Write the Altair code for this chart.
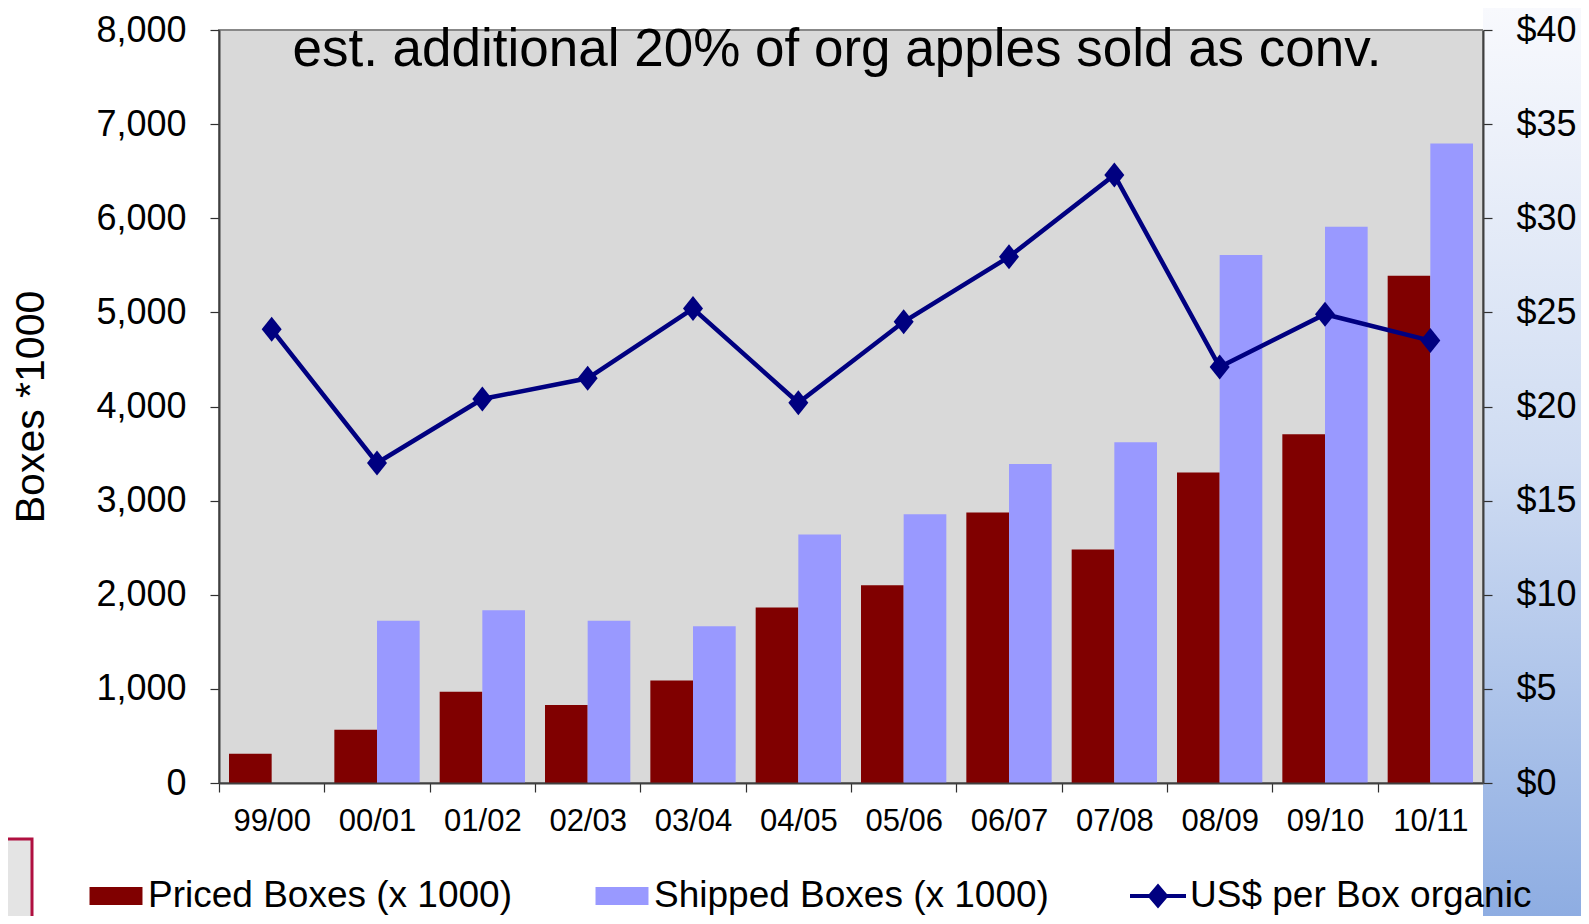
import altair as alt
import pandas as pd

# ---- data ----
SEASONS = ["99/00", "00/01", "01/02", "02/03", "03/04", "04/05",
           "05/06", "06/07", "07/08", "08/09", "09/10", "10/11"]
PRICED_BOXES = [310, 565, 970, 830, 1090, 1865, 2100, 2875, 2480, 3300, 3705, 5390]
SHIPPED_BOXES = [None, 1725, 1835, 1725, 1665, 2640, 2855, 3390, 3620, 5610, 5910, 6795]
PRICE_PER_BOX = [24.1, 17.0, 20.4, 21.5, 25.2, 20.2, 24.5, 27.95, 32.3, 22.1, 24.9, 23.5]
LEFT_TICKS = [0, 1000, 2000, 3000, 4000, 5000, 6000, 7000, 8000]
RIGHT_TICKS = [0, 5, 10, 15, 20, 25, 30, 35, 40]
PRICED_NAME = "Priced Boxes (x 1000)"
SHIPPED_NAME = "Shipped Boxes (x 1000)"
LINE_NAME = "US$ per Box organic"
NOTE = "est. additional 20% of org apples sold as conv."
Y_TITLE = "Boxes *1000"

# ---- style ----
MAROON = "#800000"
LAVENDER = "#9999FF"
NAVY = "#000080"
FONT = "Liberation Sans"
W, H = 1264, 753
PAD = {"left": 211, "top": 22, "right": 98, "bottom": 133}
STEP = W / len(SEASONS)
TOP = 8 + PAD["top"]          # page y of the plot's top edge

RECT_PATH = "M-0.946,-0.32H0.946V0.32H-0.946Z"
LINE_PATH = "M-1,-0.075H1V0.075H-1Z M0,-0.45L0.38,0L0,0.45L-0.38,0Z"
DIAMOND = "M0,-1L0.8,0L0,1L-0.8,0Z"

rows = []
for s, p, sh in zip(SEASONS, PRICED_BOXES, SHIPPED_BOXES):
    rows.append({"season": s, "series": PRICED_NAME, "boxes": p})
    if sh is not None:
        rows.append({"season": s, "series": SHIPPED_NAME, "boxes": sh})
bars_df = pd.DataFrame(rows)
line_df = pd.DataFrame({"season": SEASONS, "price": PRICE_PER_BOX,
                        "series": [LINE_NAME] * len(SEASONS)})

x_enc = alt.X(
    "season:N",
    sort=SEASONS,
    scale=alt.Scale(domain=SEASONS, paddingInner=0.19, paddingOuter=0.095),
    axis=alt.Axis(title=None, labelAngle=0, labelFontSize=31, tickSize=9,
                  tickOffset=-STEP / 2, labelOffset=STEP / 2, labelPadding=14,
                  zindex=1, grid=False),
)

left_axis = alt.Axis(orient="left", values=LEFT_TICKS, format=",.0f", labelFontSize=36,
                     tickSize=9, labelPadding=24, title=Y_TITLE, titleFontSize=41,
                     titleFontWeight="normal", titlePadding=43, grid=False, zindex=1)
right_axis = alt.Axis(orient="right", values=RIGHT_TICKS, format="$.0f", labelFontSize=36,
                      tickSize=9, labelPadding=24, title=None, grid=False, zindex=1)

LEG_Y = 868 - TOP
bar_legend = alt.Legend(title=None, orient="none", legendX=-131, legendY=LEG_Y,
                        direction="horizontal", symbolType=RECT_PATH, symbolSize=3136,
                        symbolStrokeWidth=0, labelFontSize=37, labelFont=FONT,
                        labelColor="black", labelOffset=4, labelLimit=900,
                        columnPadding=81, padding=0)
line_legend = alt.Legend(title=None, orient="none", legendX=911, legendY=LEG_Y,
                         direction="horizontal", symbolType=LINE_PATH, symbolSize=3136,
                         symbolStrokeWidth=0, labelFontSize=37, labelFont=FONT,
                         labelColor="black", labelOffset=4, labelLimit=900, padding=0)

one = pd.DataFrame({"note": [NOTE]})

grad = alt.Chart(one).mark_rect(
    fill=alt.Gradient(gradient="linear",
                      stops=[alt.GradientStop(offset=0, color="#F8F9FD"),
                             alt.GradientStop(offset=0.5, color="#CFDCF2"),
                             alt.GradientStop(offset=1, color="#8EADE2")],
                      x1=0, x2=0, y1=0, y2=1),
    strokeWidth=0,
).encode(x=alt.value(W), x2=alt.value(W + PAD["right"]),
         y=alt.value(-PAD["top"]), y2=alt.value(H + PAD["bottom"]))

logo = alt.Chart(one).mark_rect(fill="#E4E4E4", stroke="#B01040", strokeWidth=3).encode(
    x=alt.value(-215), x2=alt.value(-187), y=alt.value(839 - TOP),
    y2=alt.value(H + PAD["bottom"] + 5))

bars = alt.Chart(bars_df).mark_bar(strokeWidth=0).encode(
    x=x_enc,
    xOffset=alt.XOffset("series:N", scale=alt.Scale(domain=[PRICED_NAME, SHIPPED_NAME],
                                                      paddingInner=0, paddingOuter=0)),
    y=alt.Y("boxes:Q", scale=alt.Scale(domain=[0, 8000]), axis=left_axis),
    color=alt.Color("series:N",
                    scale=alt.Scale(domain=[PRICED_NAME, SHIPPED_NAME], range=[MAROON, LAVENDER]),
                    legend=bar_legend),
)

y_right = alt.Y("price:Q", scale=alt.Scale(domain=[0, 40]), axis=right_axis)

line = alt.Chart(line_df).mark_line(color=NAVY, strokeWidth=4.5).encode(x=x_enc, y=y_right)
points = alt.Chart(line_df).mark_point(shape=DIAMOND, filled=True, size=625, opacity=1,
                                       strokeWidth=0).encode(
    x=x_enc, y=y_right,
    color=alt.Color("series:N", scale=alt.Scale(domain=[LINE_NAME], range=[NAVY]),
                    legend=line_legend),
)

note = alt.Chart(one).mark_text(fontSize=53, font=FONT, color="black", align="center",
                                baseline="alphabetic").encode(
    text="note:N", x=alt.value(618), y=alt.value(66 - TOP))

chart = alt.layer(grad, logo, bars, alt.layer(line, points), note).resolve_scale(
    y="independent", color="independent"
).properties(
    width=W, height=H,
    autosize=alt.AutoSizeParams(type="none"),
    padding=PAD,
    background="white",
).configure(font=FONT).configure_view(
    fill="#D9D9D9", stroke="#888888", strokeWidth=2
).configure_axis(
    labelColor="black", titleColor="black", tickColor="#303030", domainColor="#404040",
    domainWidth=2, tickWidth=1.2, labelFont=FONT, titleFont=FONT
)

chart.save("out.html", embed_options={"renderer": "svg", "actions": False})
